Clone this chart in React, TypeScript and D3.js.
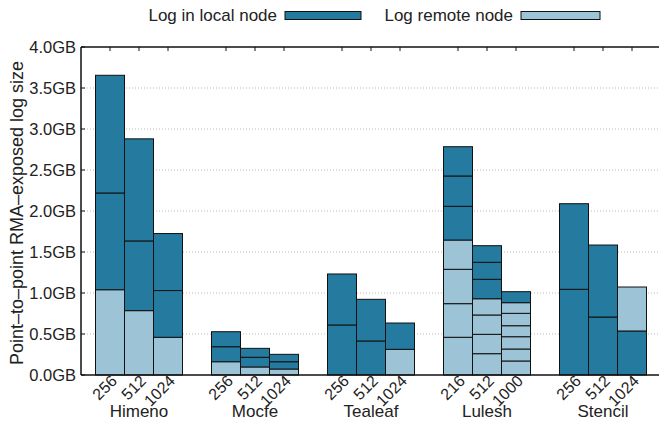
import React from "react";
import * as d3 from "d3";

// Benchmarks and the process counts of each run
const benchmarks = ["Himeno", "Mocfe", "Tealeaf", "Lulesh", "Stencil"];
const processCounts = [
  ["256", "512", "1024"],
  ["256", "512", "1024"],
  ["256", "512", "1024"],
  ["216", "512", "1000"],
  ["256", "512", "1024"],
];

// Per-run log segments, stacked bottom-up (GB); kind "R" = remote node, "L" = local node
const segmentSizes: number[][] = [
  [1.04, 1.18, 1.435],
  [0.785, 0.85, 1.245],
  [0.46, 0.57, 0.695],
  [0.162, 0.183, 0.183],
  [0.098, 0.118, 0.109],
  [0.073, 0.089, 0.09],
  [0.61, 0.622],
  [0.415, 0.508],
  [0.313, 0.321],
  [0.46, 0.41, 0.419, 0.357, 0.411, 0.37, 0.357],
  [0.26, 0.236, 0.236, 0.198, 0.237, 0.207, 0.203],
  [0.171, 0.146, 0.15, 0.134, 0.151, 0.13, 0.134],
  [1.045, 1.044],
  [0.707, 0.878],
  [0.537, 0.536],
];
const segmentKinds: string[][] = [
  ["R", "L", "L"],
  ["R", "L", "L"],
  ["R", "L", "L"],
  ["R", "L", "L"],
  ["R", "L", "L"],
  ["R", "L", "L"],
  ["L", "L"],
  ["L", "L"],
  ["R", "L"],
  ["R", "R", "R", "R", "L", "L", "L"],
  ["R", "R", "R", "R", "L", "L", "L"],
  ["R", "R", "R", "R", "R", "R", "L"],
  ["L", "L"],
  ["L", "L"],
  ["L", "R"],
];

const yTicks = [0, 0.5, 1, 1.5, 2, 2.5, 3, 3.5, 4];
const legendLabels = ["Log in local node", "Log remote node"];

const LOCAL = "#247a9f";
const REMOTE = "#9dc3d6";
const FONT = "'Liberation Sans', Arial, Helvetica, sans-serif";

const W = 659;
const H = 423;

export default function App() {
  const x = d3.scaleLinear().domain([-1, 19]).range([81, 661]);
  const y = d3.scaleLinear().domain([0, 4]).range([375, 47]);
  const slot = x(1) - x(0);

  // bar slot index: three bars per benchmark, one empty slot between groups
  const bars = segmentSizes.map((sizes, b) => {
    const g = Math.floor(b / 3);
    const k = b % 3;
    const pos = g * 4 + k;
    let acc = 0;
    const segs = sizes.map((v, s) => {
      const y0 = acc;
      acc += v;
      return { y0, y1: acc, kind: segmentKinds[b][s] };
    });
    return { pos, g, k, segs, label: processCounts[g][k] };
  });

  const left = x(-1);
  const right = W;
  const top = y(4);
  const bottom = y(0);

  return (
    <svg
      width={W}
      height={H}
      style={{ position: "absolute", left: 0, top: 0, background: "#fff" }}
      fontFamily={FONT}
    >
      {/* legend */}
      <g fontSize={17} fill="#222">
        <text x={277} y={21} textAnchor="end">{legendLabels[0]}</text>
        <rect x={285} y={11.5} width={76} height={8} fill={LOCAL} stroke="#111" strokeWidth={1} />
        <text x={513} y={21} textAnchor="end">{legendLabels[1]}</text>
        <rect x={521} y={11.5} width={79} height={8} fill={REMOTE} stroke="#111" strokeWidth={1} />
      </g>

      {/* horizontal grid */}
      {yTicks.slice(1, -1).map((t) => (
        <line
          key={"g" + t}
          x1={left}
          x2={right}
          y1={y(t)}
          y2={y(t)}
          stroke="#bbb"
          strokeWidth={1}
          strokeDasharray="1,2"
        />
      ))}

      {/* bars */}
      {bars.map((bar, i) => (
        <g key={"b" + i}>
          {bar.segs.map((s, j) => (
            <rect
              key={j}
              x={x(bar.pos) - slot / 2}
              width={slot}
              y={y(s.y1)}
              height={y(s.y0) - y(s.y1)}
              fill={s.kind === "L" ? LOCAL : REMOTE}
              stroke="#111"
              strokeWidth={1}
            />
          ))}
        </g>
      ))}

      {/* frame */}
      <line x1={left} x2={right} y1={top} y2={top} stroke="#111" strokeWidth={1.5} />
      <line x1={left} x2={right} y1={bottom} y2={bottom} stroke="#111" strokeWidth={1.5} />
      <line x1={left} x2={left} y1={top} y2={bottom} stroke="#111" strokeWidth={1.5} />

      {/* y ticks */}
      {yTicks.map((t) => (
        <g key={"yt" + t}>
          <line x1={left} x2={left + 4} y1={y(t)} y2={y(t)} stroke="#111" />
          <text x={left - 5} y={y(t)} dy="0.35em" textAnchor="end" fontSize={16.5} fill="#222">
            {t.toFixed(1) + "GB"}
          </text>
        </g>
      ))}

      {/* mirrored ticks on the top edge */}
      {bars.map((bar, i) => (
        <line key={"tt" + i} x1={x(bar.pos)} x2={x(bar.pos)} y1={top} y2={top + 4} stroke="#111" />
      ))}

      {/* process-count labels */}
      {bars.map((bar, i) => (
        <text
          key={"xl" + i}
          transform={`translate(${x(bar.pos) + 8},${bottom + 7}) rotate(-45)`}
          textAnchor="end"
          fontSize={16}
          fill="#222"
        >
          {bar.label}
        </text>
      ))}

      {/* benchmark names */}
      {benchmarks.map((name, g) => (
        <text key={"bn" + g} x={x(g * 4 + 1)} y={417} textAnchor="middle" fontSize={17} fill="#222">
          {name}
        </text>
      ))}

      {/* y-axis title */}
      <text
        transform={`translate(23,${(top + bottom) / 2 + 2}) rotate(-90)`}
        textAnchor="middle"
        fontSize={18}
        fill="#222"
      >
        Point–to–point RMA–exposed log size
      </text>
    </svg>
  );
}
